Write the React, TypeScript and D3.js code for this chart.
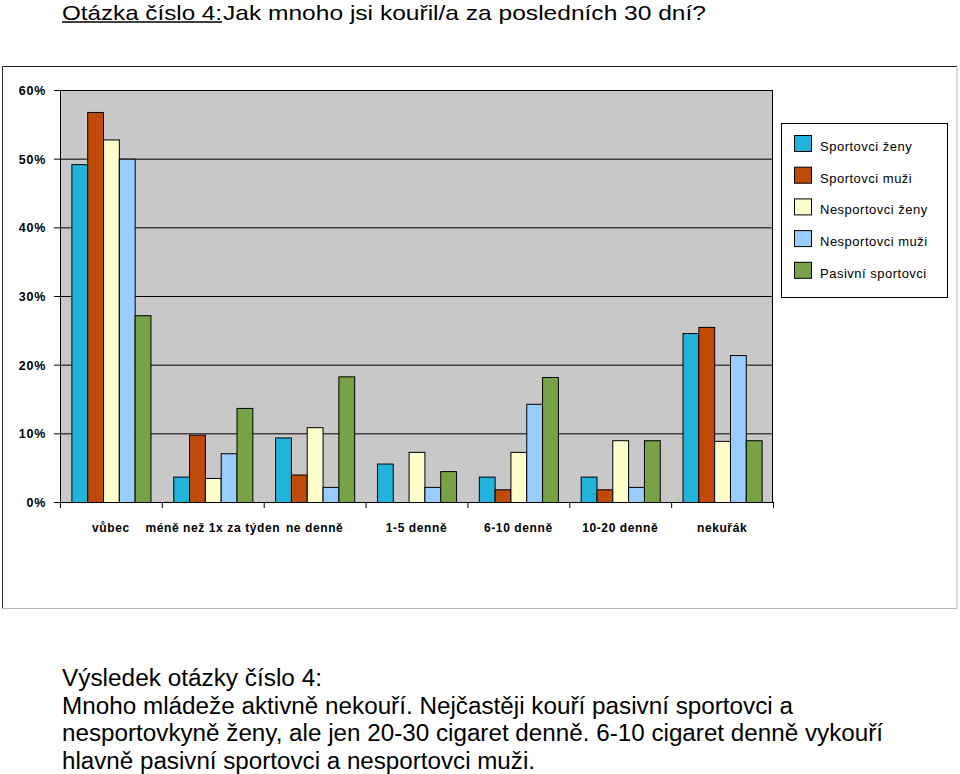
import React from "react";
import * as d3 from "d3";

const categories = [
  "vůbec",
  "méně než 1x za týden",
  "ne denně",
  "1-5 denně",
  "6-10 denně",
  "10-20 denně",
  "nekuřák",
];
const seriesNames = [
  "Sportovci ženy",
  "Sportovci muži",
  "Nesportovci ženy",
  "Nesportovci muži",
  "Pasivní sportovci",
];
const seriesColors = ["#21B4DA", "#C04A08", "#FFFFCC", "#99CCFF", "#77A246"];
const sportovciZeny = [49.2, 3.7, 9.4, 5.6, 3.7, 3.7, 24.6];
const sportovciMuzi = [56.8, 9.8, 4.0, 0, 1.85, 1.85, 25.5];
const nesportovciZeny = [52.8, 3.5, 10.9, 7.3, 7.3, 9.0, 8.9];
const nesportovciMuzi = [50.0, 7.1, 2.2, 2.2, 14.3, 2.2, 21.4];
const pasivniSportovci = [27.2, 13.7, 18.3, 4.5, 18.2, 9.0, 9.0];
const seriesValues = [sportovciZeny, sportovciMuzi, nesportovciZeny, nesportovciMuzi, pasivniSportovci];
const yTicks = [0, 10, 20, 30, 40, 50, 60];

const titleLead = "Otázka číslo 4:";
const titleRest = "Jak mnoho jsi kouřil/a za posledních 30 dní?";
const summaryLines = [
  "Výsledek otázky číslo 4:",
  "Mnoho mládeže aktivně nekouří. Nejčastěji kouří pasivní sportovci a",
  "nesportovkyně ženy, ale jen 20-30 cigaret denně. 6-10 cigaret denně vykouří",
  "hlavně pasivní sportovci a nesportovci muži.",
];
const summaryWidths = [260, 731, 821, 473];

export default function App() {
  const left = 60, right = 773, top = 90, bottom = 502;
  const x0 = d3.scaleBand<string>().domain(categories).range([left, right]).paddingInner(0).paddingOuter(0);
  const x1 = d3.scaleBand<string>().domain(seriesNames).range([0, x0.bandwidth()]).paddingInner(0).paddingOuter(0.72);
  const y = d3.scaleLinear().domain([0, 60]).range([bottom, top]);
  const font = "Arial, 'Liberation Sans', sans-serif";
  const boundaries = categories.map((c) => x0(c)!).concat([right]);

  return (
    <svg width={960} height={774} style={{ position: "absolute", left: 0, top: 0, background: "#fff" }} fontFamily={font}>
      {/* title */}
      <text x={62} y={20} fontSize={21} fill="#000" textLength={160} lengthAdjust="spacingAndGlyphs">
        {titleLead}
      </text>
      <line x1={62} x2={222} y1={22} y2={22} stroke="#000" strokeWidth={1.3} />
      <text x={223} y={20} fontSize={21} fill="#000" textLength={483} lengthAdjust="spacingAndGlyphs">
        {titleRest}
      </text>

      {/* outer chart frame */}
      <rect x={2.5} y={66.5} width={955} height={542} fill="#fff" stroke="none" />
      <line x1={2.5} x2={957} y1={66.5} y2={66.5} stroke="#222" />
      <line x1={2.5} x2={2.5} y1={66.5} y2={608.5} stroke="#222" />
      <line x1={957} x2={957} y1={66.5} y2={608.5} stroke="#b8b8b8" />
      <line x1={2.5} x2={957} y1={608.5} y2={608.5} stroke="#b8b8b8" />

      {/* plot area */}
      <rect x={left} y={top} width={right - left} height={bottom - top} fill="#C8C8C8" />
      {yTicks.map((t) => (
        <g key={t}>
          <line x1={left} x2={right} y1={y(t) + 0.5} y2={y(t) + 0.5} stroke="#000" strokeWidth={1} />
          <line x1={left - 6} x2={left} y1={y(t) + 0.5} y2={y(t) + 0.5} stroke="#000" />
          <text x={46} y={y(t) + 5} textAnchor="end" fontSize={12.5} fontWeight="bold" letterSpacing={0.7} fill="#000">
            {t}%
          </text>
        </g>
      ))}
      <line x1={right - 0.5} x2={right - 0.5} y1={top} y2={bottom} stroke="#000" />

      {/* bars */}
      {categories.map((c, ci) => (
        <g key={c} transform={`translate(${x0(c)},0)`}>
          {seriesNames.map((s, si) => {
            const v = seriesValues[si][ci];
            if (v <= 0) return null;
            return (
              <rect
                key={s}
                x={x1(s)! + 0.5}
                y={y(v) + 0.5}
                width={x1.bandwidth()}
                height={y(0) - y(v)}
                fill={seriesColors[si]}
                stroke="#000"
                strokeWidth={1}
              />
            );
          })}
        </g>
      ))}

      {/* axes */}
      <line x1={left + 0.5} x2={left + 0.5} y1={top} y2={bottom + 0.5} stroke="#000" />
      <line x1={left} x2={right} y1={bottom + 0.5} y2={bottom + 0.5} stroke="#000" />
      {boundaries.map((b, i) => (
        <line key={i} x1={b + 0.5} x2={b + 0.5} y1={bottom} y2={bottom + 6} stroke="#000" />
      ))}
      {categories.map((c) => (
        <text key={c} x={x0(c)! + x0.bandwidth() / 2} y={532} textAnchor="middle" fontSize={12} fontWeight="bold" letterSpacing={0.6} fill="#000">
          {c}
        </text>
      ))}

      {/* legend */}
      <rect x={781.5} y={123.5} width={166} height={174} fill="#fff" stroke="#000" />
      {seriesNames.map((s, i) => (
        <g key={s} transform={`translate(0,${135 + i * 31.7})`}>
          <rect x={794.5} y={0.5} width={17} height={16} fill={seriesColors[i]} stroke="#000" />
          <text x={820} y={16} fontSize={13} letterSpacing={0.5} fill="#000">
            {s}
          </text>
        </g>
      ))}

      {/* summary text */}
      {summaryLines.map((l, i) => (
        <text key={i} x={62} y={686 + i * 27.5} fontSize={23} fill="#000" textLength={summaryWidths[i]} lengthAdjust="spacingAndGlyphs">
          {l}
        </text>
      ))}
    </svg>
  );
}
